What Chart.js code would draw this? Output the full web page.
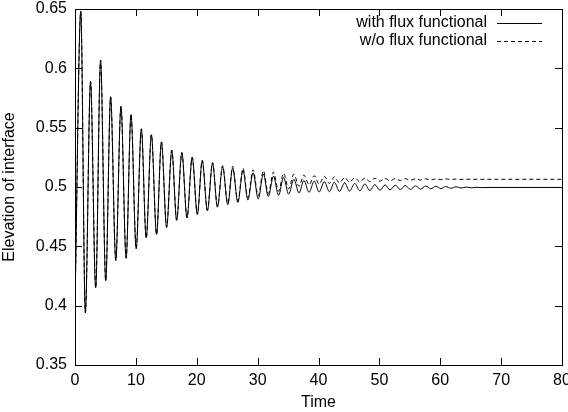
<!DOCTYPE html>
<html>
<head>
<meta charset="utf-8">
<script src="https://cdn.jsdelivr.net/npm/chart.js@4/dist/chart.umd.min.js"></script>
<style>
  html, body { margin: 0; padding: 0; background: #fff; }
  #wrap { width: 568px; height: 412px; }
</style>
</head>
<body>
<div id="wrap"><canvas id="elevation" width="568" height="412"></canvas></div>
<script>
// Data (peaks and troughs)
const timePoints = [0, 0.95, 1.7, 2.55, 3.4, 4.2, 5.05, 5.85, 6.7, 7.55, 8.4, 9.2, 10.05, 10.9, 11.7, 12.55, 13.4, 14.2, 15.05, 15.9,
    16.7, 17.55, 18.4, 19.25, 20.1, 20.9, 21.75, 22.6, 23.4, 24.25, 25.1, 25.9, 26.75, 27.6, 28.4, 29.25, 30.1, 30.95, 31.75, 32.6,
    33.45, 34.25, 35.1, 35.95, 36.8, 37.6, 38.45, 39.3, 40.1, 40.95, 41.8, 42.6, 43.45, 44.3, 45.1, 45.95, 46.8, 47.6, 48.45, 49.25,
    50.1, 50.95, 51.75, 52.6, 53.45, 54.25, 55.1, 55.95, 56.75, 57.6, 58.45, 59.25, 60.1, 60.9, 61.75, 62.6, 63.4, 64.25, 65.1, 65.9,
    66.75, 68, 80];
const withFlux = [0.400, 0.648, 0.394, 0.589, 0.415, 0.607, 0.421, 0.576, 0.438, 0.568, 0.440, 0.561, 0.448, 0.549, 0.457, 0.544, 0.460, 0.538, 0.466, 0.531,
    0.472, 0.529, 0.474, 0.525, 0.477, 0.522, 0.480, 0.520, 0.483, 0.517, 0.485, 0.516, 0.487, 0.514, 0.489, 0.512, 0.490, 0.511, 0.492, 0.509,
    0.493, 0.508, 0.494, 0.5065, 0.4950, 0.5055, 0.4955, 0.5050, 0.4958, 0.5045, 0.4960, 0.5040, 0.4963, 0.5035, 0.4966, 0.5030, 0.4968, 0.5025, 0.4970, 0.5020,
    0.4973, 0.5018, 0.4975, 0.5015, 0.4978, 0.5013, 0.4980, 0.5010, 0.4982, 0.5008, 0.4985, 0.5006, 0.4987, 0.5004, 0.4989, 0.5002, 0.4991, 0.5000, 0.4993, 0.4998,
    0.4995, 0.4996, 0.4996];
const withoutFlux = [0.400, 0.648, 0.394, 0.589, 0.415, 0.607, 0.421, 0.576, 0.438, 0.568, 0.440, 0.561, 0.448, 0.549, 0.457, 0.544, 0.460, 0.538, 0.466, 0.531,
    0.472, 0.529, 0.474, 0.525, 0.477, 0.5225, 0.4805, 0.5207, 0.4838, 0.518, 0.4862, 0.5175, 0.4885, 0.5158, 0.4910, 0.5145, 0.4925, 0.5138, 0.4945, 0.5125,
    0.4965, 0.5115, 0.4985, 0.5108, 0.5005, 0.5100, 0.5018, 0.5095, 0.5025, 0.5090, 0.5030, 0.5085, 0.5035, 0.5080, 0.5040, 0.5078, 0.5043, 0.5075, 0.5046, 0.5073,
    0.5049, 0.5072, 0.5052, 0.5071, 0.5055, 0.5070, 0.5057, 0.5069, 0.5059, 0.5069, 0.5060, 0.5068, 0.5062, 0.5068, 0.5063, 0.5067, 0.5064, 0.5066, 0.5065, 0.5065,
    0.5065, 0.5065, 0.5065];
const xTicks = [0, 10, 20, 30, 40, 50, 60, 70, 80];
const yTicks = [0.35, 0.4, 0.45, 0.5, 0.55, 0.6, 0.65];

const FONT = { family: "'Liberation Sans', Arial, sans-serif", size: 16 };

function toPoints(values) {
    return timePoints.map((t, i) => ({ x: t, y: values[i] }));
}

// gnuplot look: full border, inward ticks on all sides, legend top right
const gnuplotFrame = {
    id: "gnuplotFrame",
    afterDatasetsDraw(chart) {
        const { ctx, chartArea: a, scales } = chart;
        const tick = 7;
        ctx.save();
        ctx.strokeStyle = "#000";
        ctx.lineWidth = 1;
        ctx.setLineDash([]);
        ctx.strokeRect(a.left + 0.5, a.top + 0.5, a.right - a.left, a.bottom - a.top);
        ctx.beginPath();
        xTicks.forEach(v => {
            const px = Math.round(scales.x.getPixelForValue(v)) + 0.5;
            ctx.moveTo(px, a.bottom); ctx.lineTo(px, a.bottom - tick);
            ctx.moveTo(px, a.top); ctx.lineTo(px, a.top + tick);
        });
        yTicks.forEach(v => {
            const py = Math.round(scales.y.getPixelForValue(v)) + 0.5;
            ctx.moveTo(a.left, py); ctx.lineTo(a.left + tick, py);
            ctx.moveTo(a.right, py); ctx.lineTo(a.right - tick, py);
        });
        ctx.stroke();

        // legend: right-aligned text, sample line on the right
        ctx.font = FONT.size + "px " + FONT.family;
        ctx.fillStyle = "#000";
        ctx.textAlign = "right";
        ctx.textBaseline = "middle";
        chart.data.datasets.forEach((ds, i) => {
            const ly = 23 + i * 18;
            ctx.fillText(ds.label, 487, ly);
            ctx.beginPath();
            ctx.setLineDash(ds.borderDash || []);
            ctx.moveTo(497, ly + 0.5);
            ctx.lineTo(542, ly + 0.5);
            ctx.stroke();
        });
        ctx.restore();
    }
};

new Chart(document.getElementById("elevation"), {
    type: "line",
    data: {
        datasets: [{
            label: "with flux functional",
            data: toPoints(withFlux),
            borderColor: "#000",
            borderWidth: 1,
            pointRadius: 0,
            cubicInterpolationMode: "monotone"
        }, {
            label: "w/o flux functional",
            data: toPoints(withoutFlux),
            borderColor: "#000",
            borderWidth: 1,
            borderDash: [4, 3],
            pointRadius: 0,
            cubicInterpolationMode: "monotone"
        }]
    },
    options: {
        responsive: false,
        animation: false,
        layout: { padding: { top: 9, right: 6, left: 0, bottom: 0 } },
        plugins: {
            legend: { display: false },
            tooltip: { enabled: false }
        },
        scales: {
            x: {
                type: "linear",
                min: 0,
                max: 80,
                afterBuildTicks: s => { s.ticks = xTicks.map(v => ({ value: v })); },
                afterFit: s => { s.height = 47; s.paddingLeft = 0; s.paddingRight = 0; },
                grid: { display: false, drawTicks: false },
                border: { display: false },
                ticks: { font: FONT, color: "#000", padding: 6, maxRotation: 0 },
                title: { display: true, text: "Time", font: FONT, color: "#000", padding: { top: 0, bottom: 0 } }
            },
            y: {
                min: 0.35,
                max: 0.65,
                afterBuildTicks: s => { s.ticks = yTicks.map(v => ({ value: v })); },
                afterFit: s => { s.width = 75; s.paddingTop = 0; s.paddingBottom = 0; },
                grid: { display: false, drawTicks: false },
                border: { display: false },
                ticks: {
                    font: FONT,
                    color: "#000",
                    padding: 8,
                    callback: v => String(Number(v.toFixed(2)))
                },
                title: { display: true, text: "Elevation of interface", font: FONT, color: "#000", padding: { top: 0, bottom: 0 } }
            }
        }
    },
    plugins: [gnuplotFrame]
});
</script>
</body>
</html>
